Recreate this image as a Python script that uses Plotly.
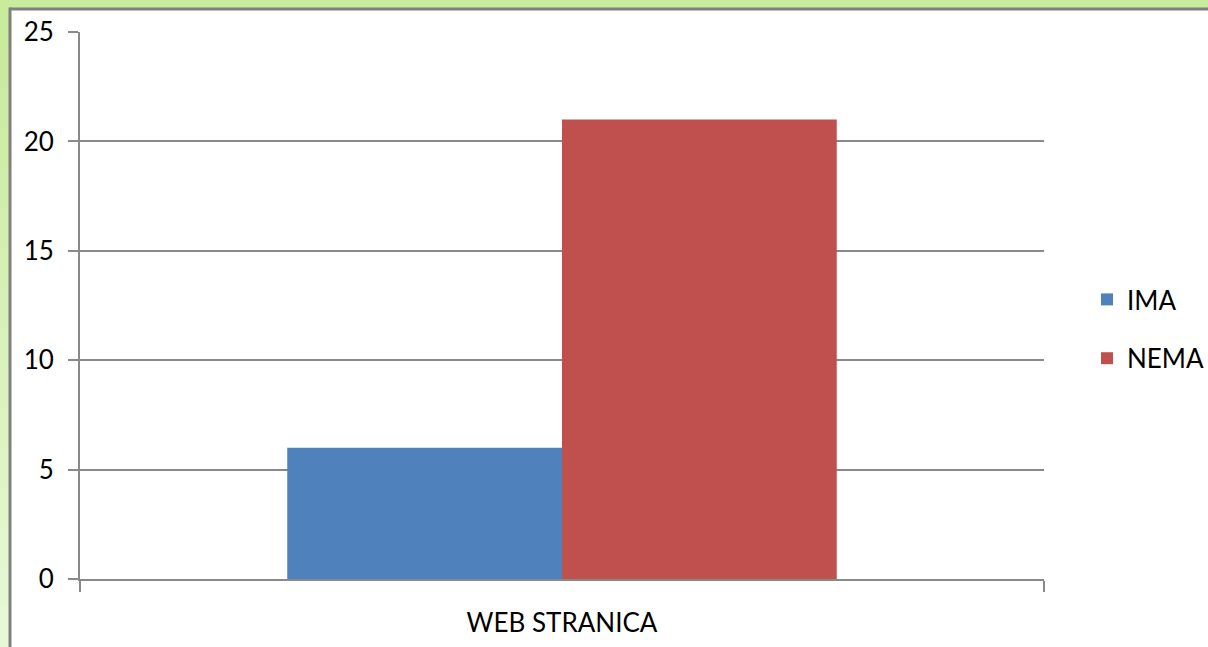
import plotly.graph_objects as go

categories = ["WEB STRANICA"]
series_names = ["IMA", "NEMA"]
ima_values = [6]
nema_values = [21]
colors = ["#4F81BD", "#C0504D"]
y_ticks = [0, 5, 10, 15, 20, 25]

W, H = 1208, 647
L, R, T, B = 80, 1044, 32, 579

def px(x):
    return (x - L) / (R - L)

def py(y):
    return (B - y) / (B - T)

fig = go.Figure()
for name, vals, col in zip(series_names, [ima_values, nema_values], colors):
    fig.add_trace(go.Bar(x=categories, y=vals, name=name, marker_color=col,
                         marker_line_width=0, legendgroup=name))

shapes = []
# green frame: top strip and left strip with vertical gradient
top_c = (200, 235, 156)
bot_c = (232, 248, 214)
shapes.append(dict(type="rect", xref="paper", yref="paper", layer="below",
                   x0=px(-5), x1=px(W + 5), y0=py(9), y1=py(-5),
                   fillcolor="rgb(%d,%d,%d)" % top_c, line_width=0))
n = 16
for i in range(n):
    t = i / (n - 1)
    c = tuple(int(top_c[k] + (bot_c[k] - top_c[k]) * t) for k in range(3))
    y0p = 8 + i * (H - 8) / n
    y1p = 8 + (i + 1) * (H - 8) / n + 1
    shapes.append(dict(type="rect", xref="paper", yref="paper", layer="below",
                       x0=px(-5), x1=px(10), y0=py(y1p), y1=py(y0p),
                       fillcolor="rgb(%d,%d,%d)" % c, line_width=0))
# gray panel border (left and top)
shapes.append(dict(type="line", xref="paper", yref="paper", layer="below",
                   x0=px(10), x1=px(W + 5), y0=py(9), y1=py(9),
                   line=dict(color="#808080", width=3)))
shapes.append(dict(type="line", xref="paper", yref="paper", layer="below",
                   x0=px(10), x1=px(10), y0=py(7.5), y1=py(H + 5),
                   line=dict(color="#808080", width=3)))

FS = 26
fig.update_layout(
    width=W, height=H,
    margin=dict(l=L, r=W - R, t=T, b=H - B, pad=0, autoexpand=False),
    paper_bgcolor="white",
    plot_bgcolor="rgba(0,0,0,0)",
    barmode="group", bargap=0.43, bargroupgap=0,
    font=dict(family="Lato, 'Open Sans', sans-serif", size=FS, color="#000000"),
    shapes=shapes,
    showlegend=True,
    legend=dict(x=px(1087), y=py(329), xanchor="left", yanchor="middle",
                bgcolor="rgba(0,0,0,0)", borderwidth=0, tracegroupgap=22,
                font=dict(size=FS)),
    xaxis=dict(type="category", range=[-0.5, 0.5], tickson="boundaries",
               ticks="outside", ticklen=11, tickwidth=2, tickcolor="#898989",
               showline=True, linecolor="#898989", linewidth=2,
               showgrid=False, ticklabelstandoff=20, automargin=False,
               tickfont=dict(size=FS)),
    yaxis=dict(range=[0, 25], tickvals=y_ticks, ticks="outside", ticklen=10,
               tickwidth=2, tickcolor="#898989", showline=True,
               linecolor="#898989", linewidth=2, showgrid=True,
               gridcolor="#898989", gridwidth=2, zeroline=False,
               ticklabelstandoff=9, automargin=False, tickfont=dict(size=FS)),
)

fig.write_html(
    "out.html",
    config={"displayModeBar": False},
    post_script="document.body.style.margin='0';document.body.style.overflow='hidden';",
)
